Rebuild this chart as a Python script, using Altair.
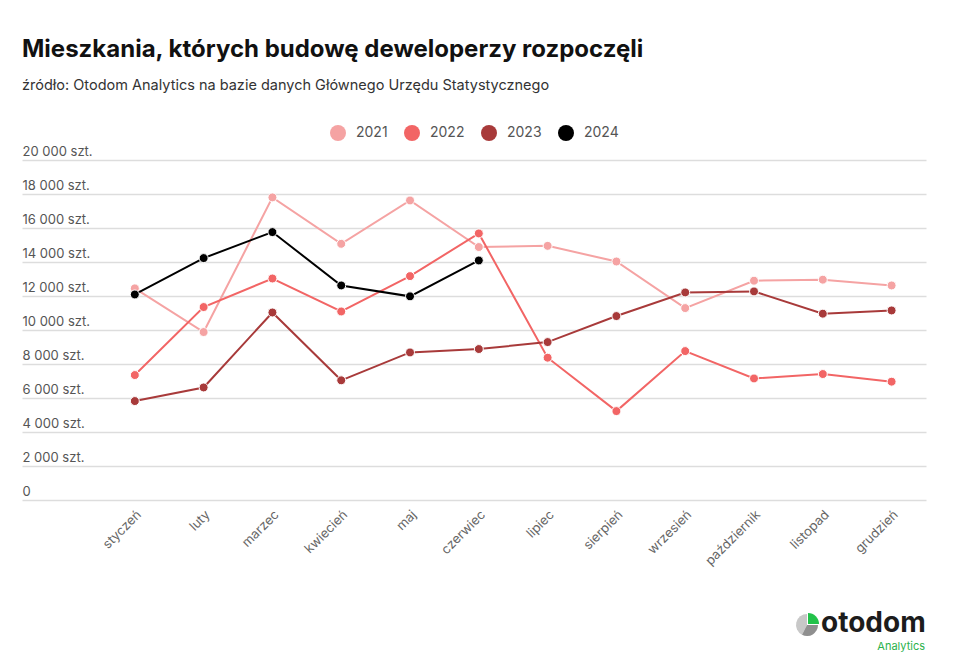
import math
import altair as alt
import pandas as pd

months = ["styczeń", "luty", "marzec", "kwiecień", "maj", "czerwiec",
          "lipiec", "sierpień", "wrzesień", "październik", "listopad", "grudzień"]
years = ["2021", "2022", "2023", "2024"]
v2021 = [12450, 9880, 17800, 15070, 17620, 14880, 14950, 14030, 11290, 12900, 12960, 12620]
v2022 = [7350, 11350, 13030, 11090, 13170, 15680, 8370, 5230, 8760, 7150, 7410, 6960]
v2023 = [5820, 6620, 11030, 7040, 8680, 8880, 9290, 10820, 12210, 12270, 10960, 11150]
v2024 = [12090, 14230, 15760, 12620, 11980, 14090]
colors = ["#F5A3A3", "#F26565", "#A83A3A", "#000000"]
y_ticks = [0, 2000, 4000, 6000, 8000, 10000, 12000, 14000, 16000, 18000, 20000]

rows = []
for yr, vals in zip(years, [v2021, v2022, v2023, v2024]):
    for m, v in zip(months, vals):
        rows.append({"miesiac": m, "rok": yr, "wartosc": v})
df = pd.DataFrame(rows)

FONT = "Inter"

x_enc = alt.X(
    "miesiac:N", sort=months,
    scale=alt.Scale(type="band", paddingInner=0, paddingOuter=0.57, align=1),
    axis=alt.Axis(title=None, labelAngle=-45, ticks=False, domain=False, grid=False,
                  labelFont=FONT, labelFontSize=13, labelColor="#666", labelPadding=8),
)
y_enc = alt.Y(
    "wartosc:Q",
    scale=alt.Scale(domain=[0, 20000], nice=False),
    axis=alt.Axis(title=None, values=y_ticks, ticks=False, tickSize=0, domain=False,
                  labelAlign="left", labelBaseline="bottom", labelPadding=0, labelOffset=-2,
                  labelFont=FONT, labelFontSize=13, labelColor="#555",
                  gridColor="#dddddd", gridWidth=1.5,
                  labelExpr="datum.value == 0 ? '0' : replace(format(datum.value, ',d'), ',', ' ') + ' szt.'"),
)
color_enc = alt.Color(
    "rok:N",
    scale=alt.Scale(domain=years, range=colors),
    legend=alt.Legend(title=None, orient="none", direction="horizontal", legendX=308, legendY=-35,
                      symbolType="circle", symbolSize=256, symbolStrokeWidth=0,
                      labelFont=FONT, labelFontSize=14, labelColor="#555",
                      labelOffset=10, columnPadding=16),
)

base = alt.Chart(df)
lines = base.mark_line(strokeWidth=2).encode(x=x_enc, y=y_enc, color=color_enc, detail="rok:N")
points = base.mark_point(filled=True, size=80, stroke="white", strokeWidth=1, opacity=1).encode(
    x=x_enc, y=y_enc, fill=alt.Fill("rok:N", scale=alt.Scale(domain=years, range=colors), legend=None),
    color=alt.value("white"))

# logo
logo_df = pd.DataFrame({"t": ["otodom"]})
logo_base = alt.Chart(logo_df)
logo_text = logo_base.mark_text(text="otodom", font=FONT, fontSize=28, fontWeight="bold",
                                color="#1c1c1c", align="left", baseline="alphabetic").encode(
    x=alt.value(799), y=alt.value(472))
logo_sub = logo_base.mark_text(text="Analytics", font=FONT, fontSize=11, color="#2bb24c",
                               align="right", baseline="alphabetic").encode(
    x=alt.value(903), y=alt.value(490))
arc_light = logo_base.mark_arc(theta=math.pi * 1.15, theta2=math.pi * 2, outerRadius=11,
                               color="#c8c8c8").encode(x=alt.value(785), y=alt.value(465))
arc_dark = logo_base.mark_arc(theta=math.pi / 2, theta2=math.pi * 1.15, outerRadius=11,
                              color="#8f8f8f").encode(x=alt.value(785), y=alt.value(465))
arc_green = logo_base.mark_arc(theta=0, theta2=math.pi / 2, outerRadius=11,
                               color="#22c24a").encode(x=alt.value(786), y=alt.value(464))

chart = alt.layer(lines, points, arc_light, arc_dark, arc_green, logo_text, logo_sub).properties(
    width=904, height=340,
    autosize=alt.AutoSizeParams(type="none"),
    padding={"left": 22, "top": 160, "right": 34, "bottom": 165},
    background="white",
    title=alt.TitleParams(
        text="Mieszkania, których budowę deweloperzy rozpoczęli",
        subtitle="źródło: Otodom Analytics na bazie danych Głównego Urzędu Statystycznego",
        anchor="start", frame="group", font=FONT, fontSize=24, fontWeight="bold", color="#111",
        subtitleFont=FONT, subtitleFontSize=14.5, subtitleColor="#333", subtitlePadding=17,
        offset=33,
    ),
).configure_view(stroke=None)

chart.save("out.html", embed_options={"renderer": "svg", "actions": False})
